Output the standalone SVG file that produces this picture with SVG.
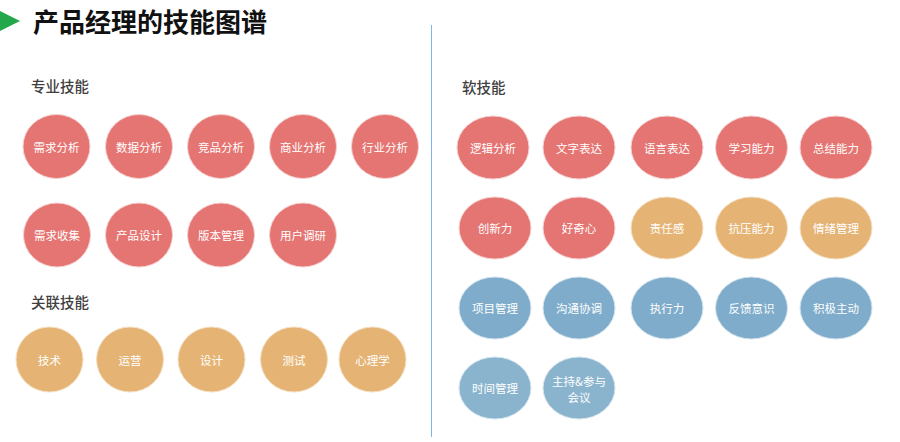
<svg xmlns="http://www.w3.org/2000/svg" width="900" height="442" viewBox="0 0 900 442">
<style>
.bg{fill:#ffffff}
.title{font-family:"Noto Sans CJK SC","Liberation Sans",sans-serif;font-size:26px;font-weight:bold;fill:#111111}
.sec{font-family:"Noto Sans CJK SC","Liberation Sans",sans-serif;font-size:14.5px;font-weight:500;fill:#404040}
.lbl{font-family:"Noto Sans CJK SC","Liberation Sans",sans-serif;font-size:11.5px;fill:#ffffff;text-anchor:middle;dominant-baseline:central}
.red{fill:#e57572;stroke:#f6d0cf;stroke-width:1}
.org{fill:#e5b474;stroke:#f5e0c3;stroke-width:1}
.blu{fill:#7eacca;stroke:#d2e3ee;stroke-width:1}
.blu2{fill:#8ab4ce;stroke:#d6e6ef;stroke-width:1}
</style>
<rect class="bg" x="0" y="0" width="900" height="442"/>
<polygon points="0,11 20,21 0,31" fill="#22a84a"/>
<text class="title" x="33" y="32">产品经理的技能图谱</text>
<line x1="431.5" y1="25" x2="431.5" y2="437" stroke="#7fb6ee" stroke-width="1"/>
<text class="sec" x="31" y="92">专业技能</text>
<text class="sec" x="31" y="308">关联技能</text>
<text class="sec" x="462" y="93">软技能</text>
<g id="connectors"/>
<g id="n1"><ellipse class="red" cx="56.5" cy="146.5" rx="33.5" ry="32"/><text class="lbl" x="56.5" y="146.5">需求分析</text></g>
<g id="n2"><ellipse class="red" cx="139" cy="146.5" rx="33.5" ry="32"/><text class="lbl" x="139" y="146.5">数据分析</text></g>
<g id="n3"><ellipse class="red" cx="221" cy="146.5" rx="33.5" ry="32"/><text class="lbl" x="221" y="146.5">竞品分析</text></g>
<g id="n4"><ellipse class="red" cx="303" cy="146.5" rx="33.5" ry="32"/><text class="lbl" x="303" y="146.5">商业分析</text></g>
<g id="n5"><ellipse class="red" cx="385" cy="146.5" rx="33.5" ry="32"/><text class="lbl" x="385" y="146.5">行业分析</text></g>
<g id="n6"><ellipse class="red" cx="57" cy="235" rx="33.5" ry="32"/><text class="lbl" x="57" y="235">需求收集</text></g>
<g id="n7"><ellipse class="red" cx="139" cy="235" rx="33.5" ry="32"/><text class="lbl" x="139" y="235">产品设计</text></g>
<g id="n8"><ellipse class="red" cx="221" cy="235" rx="33.5" ry="32"/><text class="lbl" x="221" y="235">版本管理</text></g>
<g id="n9"><ellipse class="red" cx="303" cy="235" rx="33.5" ry="32"/><text class="lbl" x="303" y="235">用户调研</text></g>
<g id="n10"><ellipse class="org" cx="49.5" cy="359.5" rx="33.5" ry="32.5"/><text class="lbl" x="49.5" y="359.5">技术</text></g>
<g id="n11"><ellipse class="org" cx="130" cy="359.5" rx="33.5" ry="32.5"/><text class="lbl" x="130" y="359.5">运营</text></g>
<g id="n12"><ellipse class="org" cx="211.5" cy="359.5" rx="33.5" ry="32.5"/><text class="lbl" x="211.5" y="359.5">设计</text></g>
<g id="n13"><ellipse class="org" cx="294" cy="359.5" rx="33.5" ry="32.5"/><text class="lbl" x="294" y="359.5">测试</text></g>
<g id="n14"><ellipse class="org" cx="372.5" cy="359.5" rx="33.5" ry="32.5"/><text class="lbl" x="372.5" y="359.5">心理学</text></g>
<g id="s1"><ellipse class="red" cx="493" cy="147.5" rx="36" ry="31.5"/><text class="lbl" x="493" y="147.5">逻辑分析</text></g>
<g id="s2"><ellipse class="red" cx="579" cy="147.5" rx="36" ry="31.5"/><text class="lbl" x="579" y="147.5">文字表达</text></g>
<g id="s3"><ellipse class="red" cx="667" cy="147.5" rx="36" ry="31.5"/><text class="lbl" x="667" y="147.5">语言表达</text></g>
<g id="s4"><ellipse class="red" cx="751.5" cy="147.5" rx="36" ry="31.5"/><text class="lbl" x="751.5" y="147.5">学习能力</text></g>
<g id="s5"><ellipse class="red" cx="836" cy="147.5" rx="36" ry="31.5"/><text class="lbl" x="836" y="147.5">总结能力</text></g>
<g id="s6"><ellipse class="red" cx="495" cy="228" rx="36" ry="31"/><text class="lbl" x="495" y="228">创新力</text></g>
<g id="s7"><ellipse class="red" cx="579" cy="228" rx="36" ry="31"/><text class="lbl" x="579" y="228">好奇心</text></g>
<g id="s8"><ellipse class="org" cx="667" cy="228" rx="36" ry="31"/><text class="lbl" x="667" y="228">责任感</text></g>
<g id="s9"><ellipse class="org" cx="751.5" cy="228" rx="36" ry="31"/><text class="lbl" x="751.5" y="228">抗压能力</text></g>
<g id="s10"><ellipse class="org" cx="836" cy="228" rx="36" ry="31"/><text class="lbl" x="836" y="228">情绪管理</text></g>
<g id="s11"><ellipse class="blu" cx="495" cy="308" rx="36" ry="31"/><text class="lbl" x="495" y="308">项目管理</text></g>
<g id="s12"><ellipse class="blu" cx="579" cy="308" rx="36" ry="31"/><text class="lbl" x="579" y="308">沟通协调</text></g>
<g id="s13"><ellipse class="blu" cx="667" cy="308" rx="36" ry="31"/><text class="lbl" x="667" y="308">执行力</text></g>
<g id="s14"><ellipse class="blu" cx="751.5" cy="308" rx="36" ry="31"/><text class="lbl" x="751.5" y="308">反馈意识</text></g>
<g id="s15"><ellipse class="blu" cx="836" cy="308" rx="36" ry="31"/><text class="lbl" x="836" y="308">积极主动</text></g>
<g id="s16"><ellipse class="blu2" cx="495" cy="388" rx="36" ry="31"/><text class="lbl" x="495" y="388">时间管理</text></g>
<g id="s17"><ellipse class="blu2" cx="579" cy="388" rx="36" ry="31"/><text class="lbl" x="579" y="381">主持&amp;参与</text><text class="lbl" x="579" y="397">会议</text></g>
</svg>
